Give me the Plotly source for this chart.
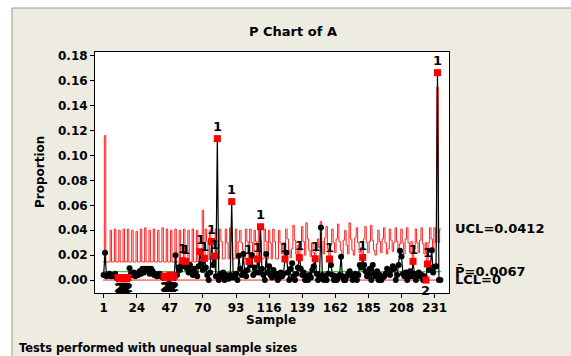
import plotly.graph_objects as go

# ---------------- data ----------------
samples = list(range(1, 236))

proportion = [
    0.004, 0.022, 0.003, 0.004, 0.005, 0.003, 0.004, 0.003, 0.005, 0.002,
    0.002, 0.001, 0.002, 0.002, 0.001, 0.002, 0.001, 0.002, 0.0095, 0.004,
    0.004, 0.006, 0.003, 0.005, 0.004, 0.007, 0.005, 0.009, 0.006, 0.009,
    0.008, 0.009, 0.005, 0.009, 0.007, 0.004, 0.005, 0.003, 0.004, 0.005,
    0.003, 0.002, 0.003, 0.002, 0.003, 0.002, 0.004, 0.003, 0.002, 0.003,
    0.020, 0.004, 0.010, 0.008, 0.012, 0.0155, 0.011, 0.0150, 0.009, 0.006,
    0.012, 0.007, 0.004, 0.009, 0.005, 0.003, 0.011, 0.0228, 0.013, 0.008,
    0.0174, 0.010, 0.004, 0.000, 0.006, 0.031, 0.012, 0.0193, 0.003, 0.1136,
    0.000, 0.005, 0.003, 0.006, 0.000, 0.004, 0.003, 0.001, 0.004, 0.063,
    0.002, 0.003, 0.005, 0.000, 0.0195, 0.009, 0.004, 0.0209, 0.006, 0.003,
    0.008, 0.0150, 0.012, 0.020, 0.004, 0.010, 0.006, 0.0169, 0.006, 0.0428,
    0.009, 0.004, 0.000, 0.021, 0.006, 0.011, 0.004, 0.002, 0.008, 0.003,
    0.005, 0.000, 0.002, 0.006, 0.003, 0.005, 0.0169, 0.022, 0.006, 0.000,
    0.009, 0.0134, 0.003, 0.000, 0.005, 0.010, 0.018, 0.009, 0.004, 0.006,
    0.000, 0.003, 0.000, 0.004, 0.002, 0.008, 0.011, 0.0171, 0.005, 0.000,
    0.003, 0.0423, 0.004, 0.000, 0.003, 0.000, 0.005, 0.0169, 0.012, 0.004,
    0.000, 0.003, 0.000, 0.002, 0.004, 0.0187, 0.003, 0.000, 0.000, 0.003,
    0.005, 0.007, 0.004, 0.000, 0.003, 0.005, 0.000, 0.004, 0.012, 0.010,
    0.0182, 0.012, 0.007, 0.003, 0.005, 0.009, 0.000, 0.012, 0.005, 0.003,
    0.007, 0.000, 0.004, 0.000, 0.002, 0.003, 0.005, 0.009, 0.006, 0.004,
    0.008, 0.011, 0.009, 0.000, 0.004, 0.012, 0.0236, 0.019, 0.005, 0.003,
    0.006, 0.000, 0.004, 0.007, 0.003, 0.0150, 0.005, 0.000, 0.004, 0.006,
    0.003, 0.004, 0.000, 0.003, 0.000, 0.0129, 0.008, 0.010, 0.024, 0.006,
    0.0104, 0.011, 0.1666, 0.000, 0.000,
]

ucl = [
    0.0145, 0.116, 0.0145, 0.0145, 0.0145, 0.040, 0.0145, 0.0145, 0.041, 0.0145,
    0.0145, 0.040, 0.0145, 0.0145, 0.041, 0.0145, 0.0145, 0.041, 0.0145, 0.0145,
    0.040, 0.0145, 0.0145, 0.039, 0.0145, 0.0145, 0.041, 0.0145, 0.0145, 0.042,
    0.0145, 0.0145, 0.040, 0.0145, 0.0145, 0.041, 0.0145, 0.0145, 0.040, 0.0145,
    0.0145, 0.042, 0.0145, 0.0145, 0.041, 0.0145, 0.0145, 0.040, 0.0145, 0.0145,
    0.041, 0.0145, 0.0145, 0.040, 0.0140, 0.0140, 0.041, 0.0140, 0.0140, 0.040,
    0.0145, 0.0145, 0.041, 0.0145, 0.0145, 0.040, 0.0145, 0.0145, 0.0145, 0.056,
    0.0145, 0.041, 0.031, 0.0165, 0.040, 0.028, 0.0165, 0.0165, 0.041, 0.031,
    0.017, 0.041, 0.031, 0.017, 0.017, 0.041, 0.030, 0.017, 0.042, 0.031,
    0.017, 0.017, 0.041, 0.017, 0.031, 0.040, 0.030, 0.024, 0.017, 0.041,
    0.031, 0.0135, 0.041, 0.030, 0.017, 0.040, 0.031, 0.015, 0.041, 0.031,
    0.017, 0.017, 0.041, 0.031, 0.017, 0.040, 0.030, 0.017, 0.041, 0.031,
    0.017, 0.017, 0.040, 0.030, 0.021, 0.030, 0.0145, 0.041, 0.033, 0.024,
    0.018, 0.025, 0.044, 0.032, 0.021, 0.028, 0.015, 0.024, 0.043, 0.031,
    0.020, 0.046, 0.033, 0.024, 0.019, 0.030, 0.022, 0.015, 0.025, 0.033,
    0.026, 0.047, 0.031, 0.021, 0.034, 0.043, 0.025, 0.015, 0.028, 0.041,
    0.030, 0.022, 0.033, 0.045, 0.031, 0.024, 0.020, 0.032, 0.040, 0.028,
    0.021, 0.046, 0.033, 0.024, 0.020, 0.034, 0.042, 0.030, 0.022, 0.026,
    0.015, 0.033, 0.043, 0.030, 0.022, 0.031, 0.044, 0.032, 0.024, 0.020,
    0.029, 0.040, 0.031, 0.022, 0.033, 0.042, 0.030, 0.021, 0.025, 0.041,
    0.032, 0.023, 0.030, 0.042, 0.031, 0.022, 0.029, 0.041, 0.030, 0.021,
    0.033, 0.042, 0.030, 0.022, 0.031, 0.014, 0.025, 0.041, 0.030, 0.022,
    0.032, 0.042, 0.029, 0.021, 0.030, 0.012, 0.030, 0.042, 0.033, 0.022,
    0.042, 0.030, 0.155, 0.030, 0.041,
]

center_line = 0.0067
lcl_value = 0.0
test1_samples = [56, 58, 68, 71, 76, 78, 80, 90, 102, 108, 110, 127, 137, 148,
                 158, 181, 216, 226, 233]
test2_samples = [11, 12, 13, 14, 15, 16, 17, 18, 43, 44, 45, 46, 47, 48, 49, 50, 225]
x_ticks = [1, 24, 47, 70, 93, 116, 139, 162, 185, 208, 231]
y_ticks = [0.00, 0.02, 0.04, 0.06, 0.08, 0.10, 0.12, 0.14, 0.16, 0.18]

# ---------------- layout geometry ----------------
W, H = 571, 356
ML, MR, MT, MB = 95, 122, 52, 63
PW, PH = W - ML - MR, H - MT - MB


def px(x):
    return (x - ML) / PW


def py(y):
    return (H - MB - y) / PH


FONT = "DejaVu Sans"
BEIGE = "#EEEBE1"


def bold(size):
    return dict(family=FONT, size=size, color="black", weight="bold")


fig = go.Figure()

lo, hi = samples[0] - 0.5, samples[-1] + 0.5

# UCL step line
fig.add_trace(go.Scatter(
    x=[lo] + samples + [hi], y=[ucl[0]] + ucl + [ucl[-1]],
    mode="lines", line=dict(color="#FF2020", width=1, shape="hvh"),
    hoverinfo="skip", showlegend=False))
# LCL line
fig.add_trace(go.Scatter(
    x=[lo, hi], y=[lcl_value, lcl_value], mode="lines",
    line=dict(color="#FF2020", width=1), hoverinfo="skip", showlegend=False))
# center line
fig.add_trace(go.Scatter(
    x=[lo, hi], y=[center_line, center_line], mode="lines",
    line=dict(color="#00C000", width=1), hoverinfo="skip", showlegend=False))
# data
fig.add_trace(go.Scatter(
    x=samples, y=proportion, mode="lines+markers",
    line=dict(color="black", width=1.2),
    marker=dict(symbol="circle", size=6, color="black"),
    showlegend=False))
flagged = sorted(set(test1_samples) | set(test2_samples))
fig.add_trace(go.Scatter(
    x=flagged, y=[proportion[s - 1] for s in flagged], mode="markers",
    marker=dict(symbol="square", size=7, color="#FF0000"),
    showlegend=False))

ann = []
for s in test1_samples:
    ann.append(dict(x=s, y=proportion[s - 1], xref="x", yref="y", text="1",
                    showarrow=False, yshift=12, font=bold(13)))
for s in test2_samples:
    ann.append(dict(x=s, y=proportion[s - 1], xref="x", yref="y", text="2",
                    showarrow=False, yshift=-10, font=bold(13)))

ann += [
    dict(x=px(293), y=py(31), xref="paper", yref="paper", text="P Chart of A",
         showarrow=False, xanchor="center", yanchor="middle", font=bold(13)),
    dict(x=px(40), y=py(172), xref="paper", yref="paper", text="Proportion",
         showarrow=False, textangle=-90, xanchor="center", yanchor="middle", font=bold(12)),
    dict(x=px(271), y=py(320), xref="paper", yref="paper", text="Sample",
         showarrow=False, xanchor="center", yanchor="middle", font=bold(12)),
    dict(x=px(17), y=py(348), xref="paper", yref="paper",
         text="Tests performed with unequal sample sizes",
         showarrow=False, xanchor="left", yanchor="middle", font=bold(11.4)),
    dict(x=px(453), y=0.0412, xref="paper", yref="y", text="UCL=0.0412",
         showarrow=False, xanchor="left", yanchor="middle", font=bold(13)),
    dict(x=px(453), y=center_line, xref="paper", yref="y", text="P\u0304=0.0067",
         showarrow=False, xanchor="left", yanchor="middle", font=bold(13)),
    dict(x=px(453), y=lcl_value, xref="paper", yref="y", yshift=1, text="LCL=0",
         showarrow=False, xanchor="left", yanchor="middle", font=bold(13)),
]

shapes = [
    dict(type="rect", xref="paper", yref="paper", x0=px(12), x1=px(700),
         y0=py(500), y1=py(8), fillcolor=BEIGE, line=dict(color="#9A9A9A", width=1),
         layer="below"),
    dict(type="rect", xref="paper", yref="paper", x0=0, x1=1, y0=0, y1=1,
         fillcolor="white", line=dict(width=0), layer="below"),
]

fig.update_layout(
    width=W, height=H,
    margin=dict(l=ML, r=MR, t=MT, b=MB, pad=0),
    paper_bgcolor="white", plot_bgcolor="white",
    showlegend=False,
    annotations=ann, shapes=shapes,
    xaxis=dict(range=[-5, 241], tickvals=x_ticks, ticks="outside", ticklen=4,
               tickcolor="black", showgrid=False, zeroline=False,
               showline=True, mirror=True, linecolor="black", linewidth=1,
               tickfont=bold(12)),
    yaxis=dict(range=[-0.0104, 0.1832], tickvals=y_ticks, tickformat=".2f",
               ticks="outside", ticklen=4, tickcolor="black", showgrid=False,
               zeroline=False, showline=True, mirror=True, linecolor="black",
               linewidth=1, tickfont=bold(12)),
)

fig.write_html(
    "out.html",
    config={"displayModeBar": False},
    post_script="document.body.style.margin='0px';document.body.style.overflow='hidden';",
)
